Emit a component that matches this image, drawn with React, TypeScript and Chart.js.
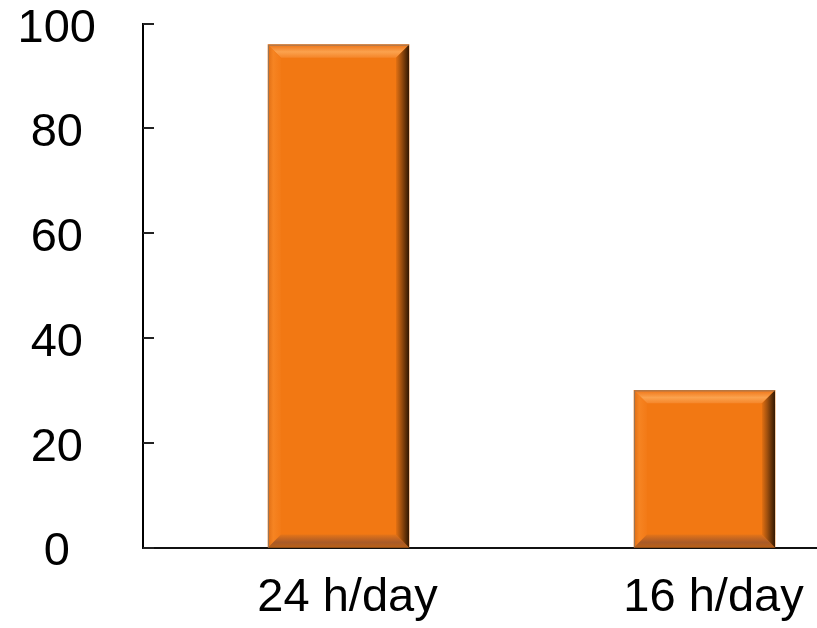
import React, { useEffect, useRef } from "react";
import { Chart, registerables } from "chart.js";

Chart.register(...registerables);

const categories = ["24 h/day", "16 h/day"];
const categoryPositions = [1, 2];
const values = [96, 30];
const yTicks = [0, 20, 40, 60, 80, 100];

const FONT = "'Liberation Sans', Arial, sans-serif";

const bevelPlugin = {
  id: "bevel",
  afterDatasetsDraw(chart: any) {
    const ctx = chart.ctx;
    const meta = chart.getDatasetMeta(0);
    const b = 13;
    meta.data.forEach((el: any) => {
      const { x, y, base, width } = el.getProps(["x", "y", "base", "width"], true);
      const L = x - width / 2;
      const R = x + width / 2;
      const T = Math.min(y, base);
      const B = Math.max(y, base);
      ctx.save();
      let g = ctx.createLinearGradient(0, T, 0, T + b);
      g.addColorStop(0, "#EE7416");
      g.addColorStop(0.55, "#FBA24E");
      g.addColorStop(1, "#F5862A");
      ctx.fillStyle = g;
      ctx.beginPath();
      ctx.moveTo(L, T); ctx.lineTo(R, T); ctx.lineTo(R - b, T + b); ctx.lineTo(L + b, T + b); ctx.closePath();
      ctx.fill();
      g = ctx.createLinearGradient(L, 0, L + b, 0);
      g.addColorStop(0, "#E06E14");
      g.addColorStop(0.4, "#F68422");
      g.addColorStop(1, "#F37A16");
      ctx.fillStyle = g;
      ctx.beginPath();
      ctx.moveTo(L, T); ctx.lineTo(L + b, T + b); ctx.lineTo(L + b, B - b); ctx.lineTo(L, B); ctx.closePath();
      ctx.fill();
      g = ctx.createLinearGradient(0, B - b, 0, B);
      g.addColorStop(0, "#E57418");
      g.addColorStop(0.6, "#A85A28");
      g.addColorStop(1, "#B86018");
      ctx.fillStyle = g;
      ctx.beginPath();
      ctx.moveTo(L, B); ctx.lineTo(L + b, B - b); ctx.lineTo(R - b, B - b); ctx.lineTo(R, B); ctx.closePath();
      ctx.fill();
      g = ctx.createLinearGradient(R - b, 0, R, 0);
      g.addColorStop(0, "#E27012");
      g.addColorStop(0.4, "#A0500E");
      g.addColorStop(1, "#321802");
      ctx.fillStyle = g;
      ctx.beginPath();
      ctx.moveTo(R, T); ctx.lineTo(R, B); ctx.lineTo(R - b, B - b); ctx.lineTo(R - b, T + b); ctx.closePath();
      ctx.fill();
      ctx.strokeStyle = "rgba(130,120,110,0.8)";
      ctx.lineWidth = 1;
      ctx.beginPath();
      ctx.moveTo(L + 0.5, B); ctx.lineTo(L + 0.5, T + 0.5); ctx.lineTo(R, T + 0.5);
      ctx.stroke();
      ctx.restore();
    });
  },
  afterDraw(chart: any) {
    const ctx = chart.ctx;
    const ys = chart.scales.y;
    const left = chart.chartArea.left;
    ctx.save();
    ctx.strokeStyle = "#222";
    ctx.lineWidth = 2;
    yTicks.forEach((v) => {
      const py = Math.round(ys.getPixelForValue(v));
      ctx.beginPath();
      ctx.moveTo(left, py);
      ctx.lineTo(left + 11, py);
      ctx.stroke();
    });
    ctx.restore();
  },
};

export default function App() {
  const ref = useRef<HTMLCanvasElement | null>(null);
  useEffect(() => {
    if (!ref.current) return;
    const chart = new Chart(ref.current, {
      type: "bar",
      data: {
        datasets: [
          {
            data: categoryPositions.map((p, i) => ({ x: p, y: values[i] })),
            backgroundColor: "#F27813",
            borderWidth: 0,
            barThickness: 141,
          },
        ],
      },
      options: {
        responsive: false,
        animation: false,
        layout: { padding: 0 },
        plugins: { legend: { display: false }, tooltip: { enabled: false } },
        scales: {
          x: {
            type: "linear",
            offset: false,
            bounds: "data",
            min: 0.4658,
            max: 2.3073,
            afterBuildTicks: (scale: any) => {
              scale.ticks = categoryPositions.map((v) => ({ value: v }));
            },
            afterFit: (scale: any) => {
              scale.height = 80.5;
              scale.paddingLeft = 0;
              scale.paddingRight = 0;
            },
            grid: { display: false, drawTicks: false, offset: false },
            border: { display: true, color: "#111", width: 2 },
            ticks: {
              color: "#000",
              font: { family: FONT, size: 47, lineHeight: 1 },
              padding: 27,
              labelOffset: 9,
              maxRotation: 0,
              minRotation: 0,
              autoSkip: false,
              callback: (v: any) => {
                const i = categoryPositions.indexOf(Number(v));
                return i >= 0 ? categories[i] : "";
              },
            },
          },
          y: {
            min: 0,
            max: 100,
            afterBuildTicks: (scale: any) => {
              scale.ticks = yTicks.map((v) => ({ value: v }));
            },
            afterFit: (scale: any) => {
              scale.width = 143;
              scale.paddingTop = 23.7;
              scale.paddingBottom = 0;
            },
            grid: { display: false, drawTicks: false },
            border: { display: true, color: "#000", width: 2 },
            ticks: {
              color: "#000",
              font: { family: FONT, size: 47, lineHeight: 1 },
              padding: 47,
              crossAlign: "center",
              labelOffset: 5,
            },
          },
        },
      },
      plugins: [bevelPlugin],
    } as any);
    return () => chart.destroy();
  }, []);
  return (
    <div style={{ position: "fixed", left: 0, top: 0, width: 817, height: 628, background: "#fff" }}>
      <canvas ref={ref} width={817} height={628} style={{ display: "block" }} />
    </div>
  );
}
